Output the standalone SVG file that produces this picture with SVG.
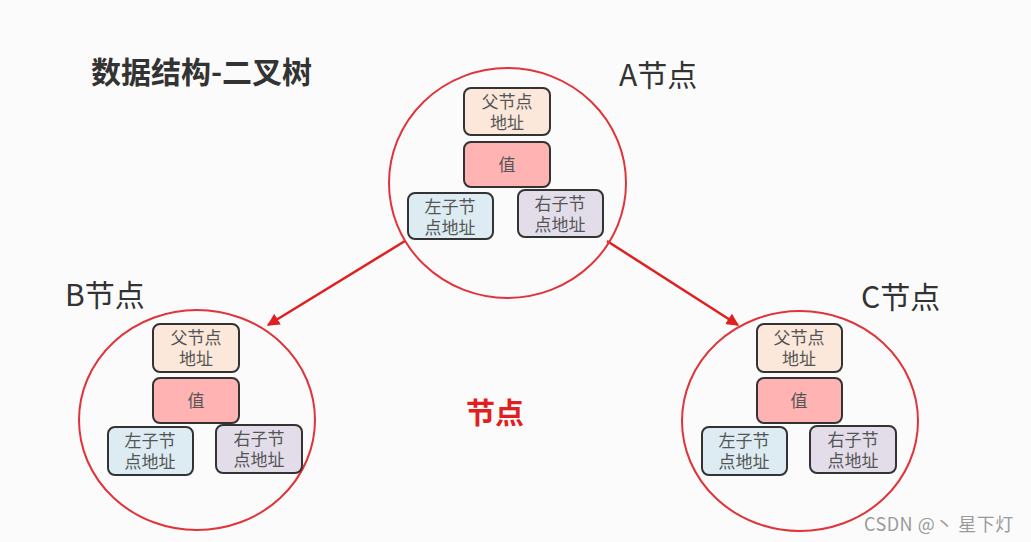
<svg xmlns="http://www.w3.org/2000/svg" width="1031" height="542" viewBox="0 0 1031 542">
<defs>
<style>
.circ{fill:none;stroke:#e0343a;stroke-width:2}
.box{stroke:#333;stroke-width:2}
.par{fill:#fbe8da}
.val{fill:#ffb3b3}
.lc{fill:#dcecf2}
.rc{fill:#e2dde9}
.bt{font-family:"Noto Sans CJK SC","Noto Sans",sans-serif;font-size:17px;fill:#555;text-anchor:middle}
.lbl{font-family:"Noto Sans CJK SC","Noto Sans",sans-serif;font-size:30px;fill:#333}
.conn{stroke:#e02020;stroke-width:2.5;fill:none;marker-end:url(#ah)}
</style>
<marker id="ah" viewBox="0 0 10 10" refX="9" refY="5" markerWidth="5" markerHeight="5" orient="auto" markerUnits="strokeWidth">
<path d="M0,0 L10,5 L0,10 z" fill="#e02020"/>
</marker>
</defs>
<rect width="1031" height="542" fill="#fbfbfb"/>
<text x="91" y="83" class="lbl" font-weight="bold" style="font-size:30px">数据结构-二叉树</text>
<g id="connectors">
<line class="conn" x1="405" y1="241" x2="268" y2="325"/>
<line class="conn" x1="607" y1="241" x2="738" y2="325"/>
</g>
<g id="nodeA">
<ellipse class="circ" cx="507.5" cy="183" rx="118.5" ry="115"/>
<text x="619" y="86" class="lbl">A节点</text>
<rect class="box par" x="464" y="88" width="86" height="47" rx="7"/>
<text class="bt" x="507" y="108">父节点</text><text class="bt" x="507" y="129">地址</text>
<rect class="box val" x="464" y="142" width="86" height="45" rx="7"/>
<text class="bt" x="507" y="171">值</text>
<rect class="box lc" x="408" y="193" width="85" height="46" rx="7"/>
<text class="bt" x="450" y="213">左子节</text><text class="bt" x="450" y="234">点地址</text>
<rect class="box rc" x="518" y="190" width="85" height="47" rx="7"/>
<text class="bt" x="560" y="210">右子节</text><text class="bt" x="560" y="231">点地址</text>
</g>
<g id="nodeB">
<ellipse class="circ" cx="197" cy="420" rx="118" ry="110"/>
<text x="65" y="306" class="lbl">B节点</text>
<rect class="box par" x="153" y="324" width="86" height="48" rx="7"/>
<text class="bt" x="196" y="344">父节点</text><text class="bt" x="196" y="365">地址</text>
<rect class="box val" x="153" y="378" width="86" height="45" rx="7"/>
<text class="bt" x="196" y="407">值</text>
<rect class="box lc" x="108" y="427" width="85" height="48" rx="7"/>
<text class="bt" x="150" y="447">左子节</text><text class="bt" x="150" y="468">点地址</text>
<rect class="box rc" x="216" y="425" width="86" height="48" rx="7"/>
<text class="bt" x="259" y="445">右子节</text><text class="bt" x="259" y="466">点地址</text>
</g>
<g id="nodeC">
<ellipse class="circ" cx="800" cy="421" rx="118" ry="110"/>
<text x="861" y="308" class="lbl">C节点</text>
<rect class="box par" x="757" y="324" width="85" height="48" rx="7"/>
<text class="bt" x="799" y="344">父节点</text><text class="bt" x="799" y="365">地址</text>
<rect class="box val" x="757" y="378" width="85" height="45" rx="7"/>
<text class="bt" x="799" y="407">值</text>
<rect class="box lc" x="702" y="427" width="85" height="48" rx="7"/>
<text class="bt" x="744" y="447">左子节</text><text class="bt" x="744" y="468">点地址</text>
<rect class="box rc" x="810" y="426" width="86" height="47" rx="7"/>
<text class="bt" x="853" y="446">右子节</text><text class="bt" x="853" y="467">点地址</text>
</g>
<text x="495" y="424" font-family="'Noto Sans CJK SC',sans-serif" font-size="29" font-weight="bold" fill="#e02020" text-anchor="middle">节点</text>
<text x="864" y="531" font-family="'Noto Sans CJK SC',sans-serif" font-size="18" fill="#9a9a9a" letter-spacing="0.5">CSDN @丶 星下灯</text>
</svg>
